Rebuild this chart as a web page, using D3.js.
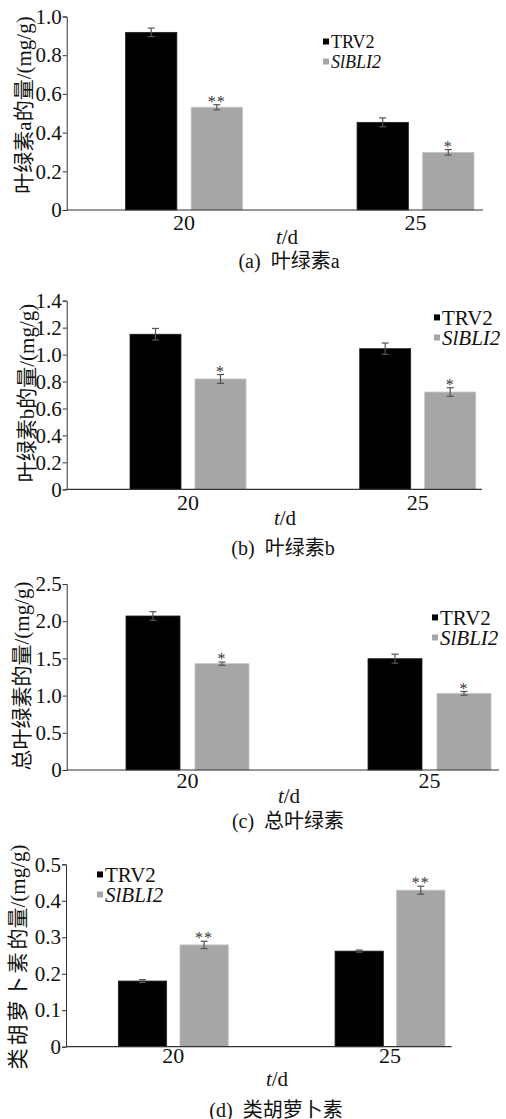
<!DOCTYPE html>
<html>
  <head>
    <meta charset="utf-8">
    <title>chlorophyll</title>
    <script src="https://cdn.jsdelivr.net/npm/d3@7"></script>
    <style>
      body { margin: 0; background: #fff; }
      svg text { font-family: "Liberation Serif", "Noto Sans CJK SC", serif; fill: #111; }
    </style>
  </head>
  <body>
    <div id="container"></div>
    <script>
      var days = ["20", "25"];
      var seriesNames = ["TRV2", "SlBLI2"];
      var colors = {"TRV2": "#000000", "SlBLI2": "#a6a6a6"};
      var serif = '"Liberation Serif", "Noto Sans CJK SC", serif';

      // (a) chlorophyll a
      var chlA_TRV2 = [0.918, 0.453], chlA_TRV2_err = [0.022, 0.023];
      var chlA_SlBLI2 = [0.531, 0.298], chlA_SlBLI2_err = [0.013, 0.014];
      var chlA_stars = ["**", "*"];
      var chlA_ticks = [0, 0.2, 0.4, 0.6, 0.8, 1.0];
      // (b) chlorophyll b
      var chlB_TRV2 = [1.151, 1.044], chlB_TRV2_err = [0.043, 0.042];
      var chlB_SlBLI2 = [0.819, 0.722], chlB_SlBLI2_err = [0.033, 0.032];
      var chlB_stars = ["*", "*"];
      var chlB_ticks = [0, 0.2, 0.4, 0.6, 0.8, 1.0, 1.2, 1.4];
      // (c) total chlorophyll
      var chlT_TRV2 = [2.07, 1.496], chlT_TRV2_err = [0.058, 0.06];
      var chlT_SlBLI2 = [1.429, 1.03], chlT_SlBLI2_err = [0.022, 0.025];
      var chlT_stars = ["*", "*"];
      var chlT_ticks = [0, 0.5, 1.0, 1.5, 2.0, 2.5];
      // (d) carotenoids
      var car_TRV2 = [0.180, 0.262], car_TRV2_err = [0.004, 0.003];
      var car_SlBLI2 = [0.279, 0.429], car_SlBLI2_err = [0.01, 0.011];
      var car_stars = ["**", "**"];
      var car_ticks = [0, 0.1, 0.2, 0.3, 0.4, 0.5];

      var panels = [
        {vals: [chlA_TRV2, chlA_SlBLI2], errs: [chlA_TRV2_err, chlA_SlBLI2_err], stars: chlA_stars, ticks: chlA_ticks,
         title: "叶绿素a的量/(mg/g)", caption: "(a)  叶绿素a",
         y0: 210, y1: 16.5, ax: 66.7, axEnd: 483, c0: 184, c1: 415.5, bw: 51.3, gap: 14.3,
         xl: 230, td: 244, tdX: 287, cap: 268, capX: 289, tX: 24, tY: 105,
         lg: {x: 323, y: 48, fs: 18}},
        {vals: [chlB_TRV2, chlB_SlBLI2], errs: [chlB_TRV2_err, chlB_SlBLI2_err], stars: chlB_stars, ticks: chlB_ticks,
         title: "叶绿素b的量/(mg/g)", caption: "(b)  叶绿素b",
         y0: 489.3, y1: 300.7, ax: 66.7, axEnd: 482, c0: 188, c1: 417.7, bw: 51, gap: 14,
         xl: 510, td: 525, tdX: 285, cap: 555, capX: 283, tX: 27, tY: 393,
         lg: {x: 434, y: 325, fs: 21}},
        {vals: [chlT_TRV2, chlT_SlBLI2], errs: [chlT_TRV2_err, chlT_SlBLI2_err], stars: chlT_stars, ticks: chlT_ticks,
         title: "总叶绿素的量/(mg/g)", caption: "(c)  总叶绿素",
         y0: 770, y1: 584, ax: 66.7, axEnd: 499, c0: 187.5, c1: 429.5, bw: 54, gap: 15,
         xl: 788, td: 803, tdX: 289, cap: 828, capX: 288, tX: 22, tY: 676,
         lg: {x: 432, y: 625, fs: 21}},
        {vals: [car_TRV2, car_SlBLI2], errs: [car_TRV2_err, car_SlBLI2_err], stars: car_stars, ticks: car_ticks,
         title: "类胡萝卜素的量/(mg/g)", caption: "(d)  类胡萝卜素", spaced: true,
         y0: 1046.7, y1: 864.3, ax: 66, axEnd: 451.7, c0: 173.3, c1: 390, bw: 48.3, gap: 13.3,
         xl: 1063, td: 1086, tdX: 277, cap: 1117, capX: 276, tX: 18, tY: 957,
         lg: {x: 97, y: 882, fs: 21}}
      ];

      var svg = d3.select("#container").append("svg")
        .attr("width", 506).attr("height", 1119);

      var fmt = function(d){ return d === 0 ? "0" : d3.format(".1f")(d); };

      panels.forEach(function(p) {
        var g = svg.append("g");
        var max = p.ticks[p.ticks.length - 1];
        var y = d3.scaleLinear().domain([0, max]).range([p.y0, p.y1]);
        var step = p.c1 - p.c0;
        var x0 = d3.scaleBand().domain(days).range([p.c0 - step/2, p.c1 + step/2]);
        var x1 = d3.scaleBand().domain(seriesNames)
          .range([step/2 - p.bw - p.gap/2, step/2 + p.bw + p.gap/2])
          .paddingInner(p.gap / (p.bw + p.gap));

        var rows = [];
        days.forEach(function(d, i) {
          seriesNames.forEach(function(s, j) {
            rows.push({day: d, s: s, v: p.vals[j][i], e: p.errs[j][i], star: j == 1 ? p.stars[i] : null});
          });
        });
        var cx = function(d){ return x0(d.day) + x1(d.s) + x1.bandwidth()/2; };

        // bars
        g.selectAll("rect.bar").data(rows).enter().append("rect")
          .attr("class", "bar")
          .attr("x", function(d){ return x0(d.day) + x1(d.s); })
          .attr("y", function(d){ return y(d.v); })
          .attr("width", x1.bandwidth())
          .attr("height", function(d){ return y(0) - y(d.v); })
          .attr("fill", function(d){ return colors[d.s]; })
          .attr("stroke", function(d){ return d.s == "TRV2" ? "#222" : "#c4c4c4"; })
          .attr("stroke-width", 0.8);

        // error bars
        var eb = g.selectAll("g.err").data(rows).enter().append("g")
          .attr("stroke", "#555").attr("stroke-width", 1.2);
        eb.append("line")
          .attr("x1", cx).attr("x2", cx)
          .attr("y1", function(d){ return y(d.v + d.e); })
          .attr("y2", function(d){ return y(d.v - d.e); });
        [1, -1].forEach(function(sg) {
          eb.append("line")
            .attr("x1", function(d){ return cx(d) - 3.5; })
            .attr("x2", function(d){ return cx(d) + 3.5; })
            .attr("y1", function(d){ return y(d.v + sg * d.e); })
            .attr("y2", function(d){ return y(d.v + sg * d.e); });
        });

        // significance stars
        g.selectAll("text.star").data(rows.filter(function(d){ return d.star; })).enter().append("text")
          .attr("x", cx)
          .attr("y", function(d){ return y(d.v + d.e) + 2; })
          .attr("text-anchor", "middle")
          .attr("font-size", 16)
          .attr("letter-spacing", 1)
          .style("fill", "#333")
          .text(function(d){ return d.star; });

        // y axis
        var ya = g.append("g")
          .attr("transform", "translate(" + p.ax + ",0)")
          .call(d3.axisLeft(y).tickValues(p.ticks).tickFormat(fmt).tickSize(4).tickPadding(1));
        ya.attr("font-family", null);
        ya.selectAll("path, line").attr("stroke", "#333");
        ya.selectAll("text").attr("font-size", 21)
          .style("font-family", serif).style("fill", "#111");

        // x axis
        var xa = g.append("g")
          .attr("transform", "translate(0," + p.y0 + ")")
          .call(d3.axisBottom(x0).tickSize(0).tickPadding(0));
        xa.attr("font-family", null);
        xa.select(".domain").remove();
        xa.selectAll("text").attr("font-size", 22).attr("dy", null)
          .attr("y", p.xl - p.y0)
          .style("font-family", serif).style("fill", "#111");
        g.append("line")
          .attr("x1", p.ax).attr("x2", p.axEnd)
          .attr("y1", p.y0).attr("y2", p.y0)
          .attr("stroke", "#333").attr("stroke-width", 1.2);

        // axis labels
        var td = g.append("text").attr("x", p.tdX).attr("y", p.td)
          .attr("text-anchor", "middle").attr("font-size", 21);
        td.append("tspan").attr("font-style", "italic").text("t");
        td.append("tspan").text("/d");

        g.append("text").attr("x", p.capX).attr("y", p.cap)
          .attr("text-anchor", "middle").attr("font-size", 20)
          .style("white-space", "pre")
          .text(p.caption);

        var tt = g.append("text")
          .attr("transform", "translate(" + p.tX + "," + p.tY + ") rotate(-90)")
          .attr("text-anchor", "middle")
          .attr("dy", "0.35em")
          .attr("font-size", 21);
        if (p.spaced) {
          tt.append("tspan").attr("letter-spacing", 3).text("类胡萝卜素");
          tt.append("tspan").text("的量/(mg/g)");
        } else {
          tt.text(p.title);
        }

        // legend
        var lg = g.append("g");
        seriesNames.forEach(function(s, i) {
          var by = p.lg.y + i * 20;
          lg.append("rect")
            .attr("x", p.lg.x).attr("y", by - p.lg.fs * 0.36 - 3)
            .attr("width", 6).attr("height", 6)
            .attr("fill", colors[s]);
          lg.append("text")
            .attr("x", p.lg.x + 8).attr("y", by)
            .attr("font-size", p.lg.fs)
            .attr("font-style", i == 1 ? "italic" : "normal")
            .text(s);
        });
      });
    </script>
  </body>
</html>
